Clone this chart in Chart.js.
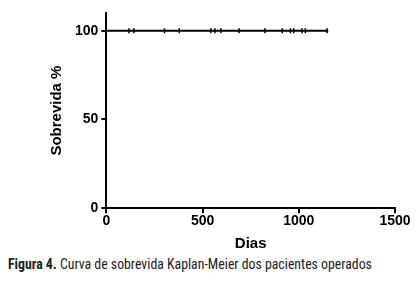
<!DOCTYPE html>
<html>
<head>
<meta charset="utf-8">
<script src="https://cdn.jsdelivr.net/npm/chart.js@4"></script>
<style>
  body { margin: 0; background: #fff; }
  #wrap { position: relative; width: 419px; height: 283px; }
  #caption {
    position: absolute; left: 8px; top: 256px;
    font-family: "Liberation Sans Narrow", "Arial Narrow", "Roboto Condensed", sans-serif;
    font-size: 13.8px; color: #222; white-space: nowrap;
  }
</style>
</head>
<body>
<div id="wrap">
  <canvas id="kmChart" width="419" height="255"></canvas>
  <div id="caption"><b>Figura 4.</b> Curva de sobrevida Kaplan-Meier dos pacientes operados</div>
</div>
<script>
// Curva de Kaplan-Meier
const curveDays = [0, 1153];
const curveSurvival = [100, 100];
const censorDays = [117, 143, 302, 379, 543, 564, 595, 690, 824, 914, 957, 974, 1017, 1034, 1147];
const yTicks = [0, 50, 100];
const xTicks = [0, 500, 1000, 1500];

const sans = '"Liberation Sans", Arial, sans-serif';
const tickFont = { family: sans, size: 14, weight: 'bold' };
const titleFont = { family: sans, size: 15, weight: 'bold' };

const kmCtx = document.getElementById('kmChart').getContext('2d');
const kmChart = new Chart(kmCtx, {
    type: 'scatter',
    data: {
        datasets: [{
            label: 'Sobrevida',
            data: curveDays.map((d, i) => ({ x: d, y: curveSurvival[i] })),
            showLine: true,
            stepped: true,
            borderColor: '#000',
            borderWidth: 2,
            pointRadius: 0
        }, {
            label: 'Censurados',
            data: censorDays.map(d => ({ x: d, y: 100 })),
            pointStyle: 'line',
            rotation: 90,
            pointRadius: 2.5,
            borderColor: '#000',
            borderWidth: 1.5
        }]
    },
    options: {
        responsive: false,
        animation: false,
        layout: { padding: { left: 48, right: 24, top: 13, bottom: 2 } },
        plugins: { legend: { display: false }, tooltip: { enabled: false } },
        scales: {
            x: {
                type: 'linear',
                min: 0,
                max: 1500,
                afterBuildTicks: axis => { axis.ticks = xTicks.map(v => ({ value: v })); },
                border: { color: '#000', width: 2 },
                grid: { drawOnChartArea: false, color: '#000', lineWidth: 2, tickLength: 5 },
                ticks: { color: '#000', font: tickFont, padding: 0, maxRotation: 0, callback: v => String(v) },
                title: { display: true, text: 'Dias', color: '#000', font: titleFont, padding: { top: 5, bottom: 0 } }
            },
            y: {
                min: 0,
                max: 110,
                afterBuildTicks: axis => { axis.ticks = yTicks.map(v => ({ value: v })); },
                border: { color: '#000', width: 2 },
                grid: { drawOnChartArea: false, color: '#000', lineWidth: 2, tickLength: 5 },
                ticks: { color: '#000', font: tickFont, padding: 3, callback: v => String(v) },
                title: { display: true, text: 'Sobrevida %', color: '#000', font: titleFont, padding: { top: 0, bottom: 6 } }
            }
        }
    }
});
</script>
</body>
</html>
